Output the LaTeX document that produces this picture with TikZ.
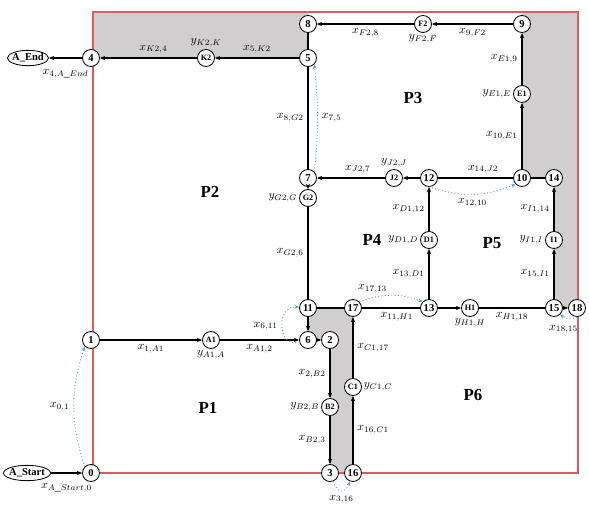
\documentclass[tikz,border=0pt]{standalone}
\usepackage{fontspec}
\setmainfont{Liberation Serif}
\usepackage{tikz}
\usetikzlibrary{
  shapes.geometric,
  arrows.meta,
  backgrounds,
  calc,
}
\definecolor{zonegray}{HTML}{D0CECE}
\definecolor{boxred}{HTML}{E05C5C}
\definecolor{flowblue}{HTML}{5B9BD5}

\begin{document}
\begin{tikzpicture}[
  x=0.3mm, y=0.3mm,
  vert/.style={
    circle,
    draw=black,
    line width=0.7pt,
    fill=white,
    minimum size=5.1mm,
    inner sep=0pt,
    font=\small\bfseries,
  },
  svert/.style={
    vert,
    font=\scriptsize\bfseries,
  },
  term/.style={
    ellipse,
    draw=black,
    line width=0.7pt,
    fill=white,
    inner xsep=-6pt,
    inner ysep=0pt,
    minimum height=4.6mm,
    font=\small\bfseries,
  },
  arr/.style={
    -{Stealth[length=1.6mm, width=1.3mm]},
    line width=0.9pt,
  },
  seg/.style={
    line width=0.9pt,
  },
  dotarr/.style={
    -{Stealth[length=1.4mm, width=1.1mm]},
    draw=flowblue,
    dotted,
    line width=0.8pt,
  },
  zone/.style={
    fill=zonegray,
  },
  region/.style={
    font=\Large\bfseries,
  },
  every label/.style={
    inner sep=1.5pt,
  },
  label distance=0pt,
]

\useasboundingbox (0,0) rectangle (589,-509);

% =============================================================================
% Terminals
% =============================================================================
\node[term, minimum width=12.3mm] (aend) at (28,-58) {A\_End};
\node[term, minimum width=14.1mm] (astart) at (27,-473) {A\_Start};

% =============================================================================
% Top row and right column
% =============================================================================
\node[vert] (n4) at (91,-58) {4};
\node[svert, label=above:{$y_{K2,K}$}] (nK2) at (206,-58) {K2};
\node[vert] (n5) at (308,-58) {5};
\node[vert] (n8) at (308,-24) {8};
\node[svert, label=below:{$y_{F2,F}$}] (nF2) at (423,-24) {F2};
\node[vert] (n9) at (522,-24) {9};
\node[svert, label=left:{$y_{E1,E}$}] (nE1) at (522,-94) {E1};

% =============================================================================
% Middle row (7 ... 14)
% =============================================================================
\node[vert] (n7) at (308,-178) {7};
\node[svert, label=above:{$y_{J2,J}$}] (nJ2) at (394,-178) {J2};
\node[vert] (n12) at (429,-178) {12};
\node[vert] (n10) at (522,-178) {10};
\node[vert] (n14) at (554,-178) {14};
\node[svert, label=left:{$y_{G2,G}$}] (nG2) at (308,-198) {G2};
\node[svert, label=left:{$y_{D1,D}$}] (nD1) at (429,-240) {D1};
\node[svert, label=left:{$y_{I1,I}$}] (nI1) at (554,-240) {I1};

% =============================================================================
% Lower row (11 ... 18)
% =============================================================================
\node[vert] (n11) at (308,-308) {11};
\node[vert] (n17) at (353,-308) {17};
\node[vert] (n13) at (429,-308) {13};
\node[svert, label=below:{$y_{H1,H}$}] (nH1) at (470,-308) {H1};
\node[vert] (n15) at (554,-308) {15};
\node[vert] (n18) at (577,-308) {18};

% =============================================================================
% Bottom part (1 ... 16)
% =============================================================================
\node[vert] (n1) at (91,-340) {1};
\node[svert, label=below:{$y_{A1,A}$}] (nA1) at (211,-340) {A1};
\node[vert] (n6) at (308,-340) {6};
\node[vert] (n2) at (330,-340) {2};
\node[svert, label=right:{$y_{C1,C}$}] (nC1) at (353,-387) {C1};
\node[svert, label=left:{$y_{B2,B}$}] (nB2) at (330,-407) {B2};
\node[vert] (n0) at (91,-473) {0};
\node[vert] (n3) at (330,-473) {3};
\node[vert] (n16) at (353,-473) {16};

% --- region names ---
\node[region] (p1) at (208,-408) {P1};
\node[region] (p2) at (210,-192) {P2};
\node[region] (p3) at (413,-98) {P3};
\node[region] (p4) at (372,-240) {P4};
\node[region] (p5) at (492,-243) {P5};
\node[region] (p6) at (473,-395) {P6};

% --- shaded zones and outer box ---
\begin{scope}[on background layer]
  \fill[zone] (93,-12) rectangle (n5.center);
  \fill[zone] (n9.center |- 0,-12) -- (578,-12) -- (578,-308)
    -- (n15.center) -- (n14.center) -- (n10.center) -- cycle;
  \fill[zone] (n11.center) -- (n17.center) -- (n16.center)
    -- (n3.center) -- (n2.center) -- (n6.center) -- cycle;
  \draw[boxred, line width=1pt] (93,-12) rectangle (578,-473);
\end{scope}

% =============================================================================
% Connectors
% =============================================================================
\draw[arr] (n4) -- node[below=6pt] {$x_{4,A\_End}$} (aend);
\draw[arr] (nK2) -- node[above, pos=0.45] {$x_{K2,4}$} (n4);
\draw[arr] (n5) -- node[above] {$x_{5,K2}$} (nK2);
\draw[seg] (n5) -- (n8);
\draw[arr] (nF2) -- node[below] {$x_{F2,8}$} (n8);
\draw[arr] (n9) -- node[below] {$x_{9,F2}$} (nF2);
\draw[arr] (nE1) -- node[left] {$x_{E1,9}$} (n9);
\draw[arr] (n10) -- node[left] {$x_{10,E1}$} (nE1);
\draw[seg] (n10) -- (n14);
\draw[seg] (n12) -- node[above, pos=0.6] {$x_{14,J2}$} (n10);
\draw[arr] (n12) -- (nJ2);
\draw[arr] (nJ2) -- node[above, pos=0.4] {$x_{J2,7}$} (n7);
\draw[seg] (n5) -- node[left] {$x_{8,G2}$} (n7);
\draw[arr] (n7) -- (nG2);
\draw[seg] (nG2) -- node[left] {$x_{G2,6}$} (n11);
\draw[arr] (n11) -- (n6);
\draw[seg] (n11) -- (n17);
\draw[seg] (n17) -- node[below, pos=0.6] {$x_{11,H1}$} (n13);
\draw[arr] (n13) -- node[left] {$x_{13,D1}$} (nD1);
\draw[arr] (nD1) -- node[left] {$x_{D1,12}$} (n12);
\draw[arr] (n13) -- (nH1);
\draw[seg] (nH1) -- node[below] {$x_{H1,18}$} (n15);
\draw[arr] (n15) -- (n18);
\draw[arr] (n15) -- node[left] {$x_{15,I1}$} (nI1);
\draw[arr] (nI1) -- node[left] {$x_{I1,14}$} (n14);
\draw[arr] (astart) -- node[below=5pt] {$x_{A\_Start,0}$} (n0);
\draw[arr] (n1) -- node[below] {$x_{1,A1}$} (nA1);
\draw[arr] (nA1) -- node[below] {$x_{A1,2}$} (n6);
\draw[arr] (n6) -- (n2);
\draw[arr] (n2) -- node[left] {$x_{2,B2}$} (nB2);
\draw[arr] (nB2) -- node[left] {$x_{B2,3}$} (n3);
\draw[arr] (n16) -- node[right] {$x_{16,C1}$} (nC1);
\draw[arr] (nC1) -- node[right] {$x_{C1,17}$} (n17);

% --- dotted transfer arcs ---
\draw[dotarr] (n0.north west) to[bend left=18] node[left] {$x_{0,1}$} (n1.south west);
\draw[dotarr] (n7.north east) to[bend right=6] node[right] {$x_{7,5}$} (n5.south east);
\draw[dotarr] (n12.south) to[bend right=20] node[below] {$x_{12,10}$} (n10.south west);
\draw[dotarr] (n17.north east) to[bend left=20] node[above, pos=0.2] {$x_{17,13}$} (n13.north west);
\draw[dotarr] (n18.south) to[bend left=35] node[below, xshift=-4pt, yshift=-2pt] {$x_{18,15}$} (n15.south east);
\draw[dotarr] (n6) to[out=195, in=175, looseness=1.7] node[left] {$x_{6,11}$} (n11);
\draw[dotarr] (n3) to[out=-70, in=-110, looseness=2] node[below] {$x_{3,16}$} (n16);

\end{tikzpicture}
\end{document}
